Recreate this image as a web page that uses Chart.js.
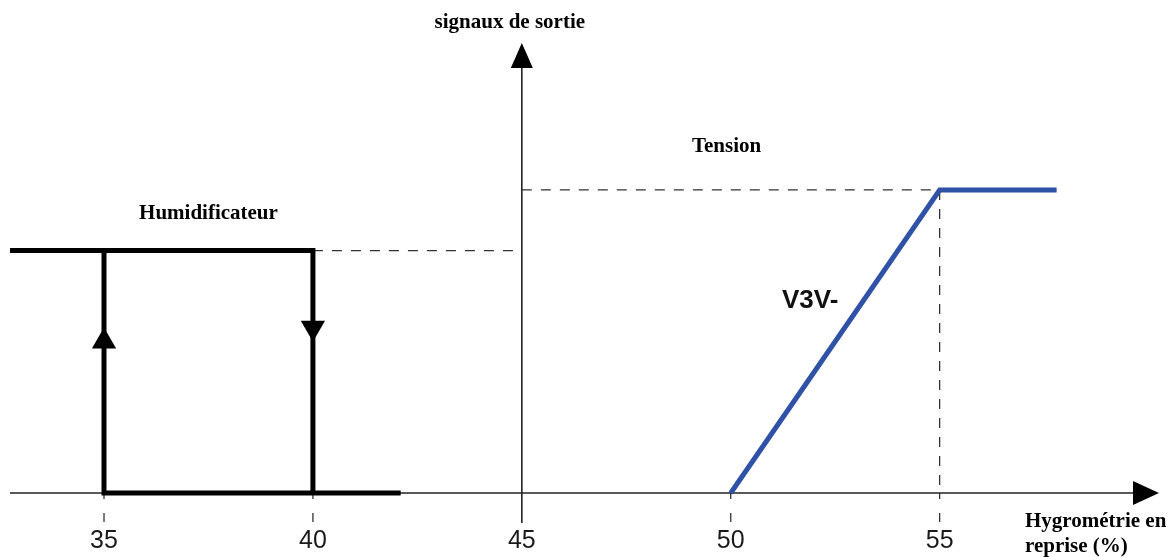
<!DOCTYPE html>
<html>
<head>
<meta charset="utf-8">
<script src="https://cdn.jsdelivr.net/npm/chart.js@4.4.1/dist/chart.umd.min.js"></script>
<style>
  html, body { margin: 0; padding: 0; background: #fff; }
  #wrap { width: 1175px; height: 557px; }
</style>
</head>
<body>
<div id="wrap"><canvas id="chart"></canvas></div>
<script>
// x: hygrometry (%), y: output signal (arbitrary units)
const xTicks = [35, 40, 45, 50, 55];
const xMin = 32.75, xMax = 60.25;
const yMax = 14.85;
const yAxisAt = 45;

// humidifier hysteresis loop (null = pen up)
const humX = [32.75, 40, 40, null, 35, 35, 42.1];
const humY = [8, 8, 0, null, 8, 0, 0];

// V3V- voltage ramp
const tenX = [50, 55, 57.8];
const tenY = [0, 10, 10];

// direction arrows on the loop legs
const arrowX = [35, 40];
const arrowY = [5.0, 5.45];
const arrowRot = [0, 180];

// dashed guide segments [x1, y1, x2, y2]
const guides = [
  [40, 8, 45, 8],
  [45, 10, 55, 10],
  [55, 10, 55, 0],
];

// in-plot labels
const labelText = ["Humidificateur", "Tension", "V3V-"];
const labelX = [37.5, 49.9, 51.9];
const labelY = [9.05, 11.25, 6.1];

const serif = "bold 21px 'Liberation Serif', 'Times New Roman', serif";

const decor = {
  id: "decor",
  beforeDatasetsDraw(chart) {
    const { ctx, chartArea, scales: { x, y } } = chart;
    const x0 = x.getPixelForValue(yAxisAt);
    const y0 = y.getPixelForValue(0);
    ctx.save();

    // dashed guides
    ctx.strokeStyle = "#333";
    ctx.lineWidth = 1.3;
    ctx.setLineDash([10, 9]);
    guides.forEach((g) => {
      ctx.beginPath();
      ctx.moveTo(x.getPixelForValue(g[0]), y.getPixelForValue(g[1]));
      ctx.lineTo(x.getPixelForValue(g[2]), y.getPixelForValue(g[3]));
      ctx.stroke();
    });

    // dashed tick marks under the axis
    ctx.setLineDash([6, 14, 9]);
    xTicks.forEach((v) => {
      if (v === yAxisAt) return;
      const px = x.getPixelForValue(v);
      ctx.beginPath();
      ctx.moveTo(px, y0);
      ctx.lineTo(px, y0 + 29);
      ctx.stroke();
    });
    ctx.setLineDash([]);

    // axes
    ctx.strokeStyle = "#222";
    ctx.lineWidth = 1.6;
    ctx.beginPath();
    ctx.moveTo(chartArea.left, y0);
    ctx.lineTo(chartArea.right - 24, y0);
    ctx.stroke();
    ctx.beginPath();
    ctx.moveTo(x0, y0 + 30);
    ctx.lineTo(x0, chartArea.top + 22);
    ctx.stroke();

    // axis arrowheads
    ctx.fillStyle = "#000";
    const r = chartArea.right, t = chartArea.top;
    ctx.beginPath();
    ctx.moveTo(r, y0);
    ctx.lineTo(r - 26, y0 - 12);
    ctx.lineTo(r - 26, y0 + 12);
    ctx.closePath();
    ctx.fill();
    ctx.beginPath();
    ctx.moveTo(x0, t);
    ctx.lineTo(x0 - 11, t + 25);
    ctx.lineTo(x0 + 11, t + 25);
    ctx.closePath();
    ctx.fill();
    ctx.restore();
  },
  afterDatasetsDraw(chart) {
    const { ctx, chartArea, scales: { x, y } } = chart;
    const x0 = x.getPixelForValue(yAxisAt);
    ctx.save();
    ctx.fillStyle = "#000";
    ctx.textBaseline = "alphabetic";

    ctx.font = serif;
    ctx.textAlign = "center";
    ctx.fillText("signaux de sortie", x0 - 12, chartArea.top - 15);
    ctx.fillText(labelText[0], x.getPixelForValue(labelX[0]), y.getPixelForValue(labelY[0]));
    ctx.fillText(labelText[1], x.getPixelForValue(labelX[1]), y.getPixelForValue(labelY[1]));

    ctx.font = "bold 26px 'Liberation Sans', Arial, sans-serif";
    ctx.fillStyle = "#111";
    ctx.fillText(labelText[2], x.getPixelForValue(labelX[2]), y.getPixelForValue(labelY[2]));

    ctx.font = serif;
    ctx.fillStyle = "#000";
    ctx.textAlign = "left";
    ctx.fillText("Hygrométrie en", chartArea.right - 134, chartArea.bottom + 34);
    ctx.fillText("reprise (%)", chartArea.right - 134, chartArea.bottom + 59);
    ctx.restore();
  },
};

const lineDefaults = {
  showLine: true,
  pointRadius: 0,
  pointHoverRadius: 0,
  tension: 0,
  spanGaps: false,
  borderJoinStyle: "miter",
  borderCapStyle: "butt",
  clip: false,
};

new Chart(document.getElementById("chart"), {
  type: "scatter",
  data: {
    datasets: [
      {
        ...lineDefaults,
        label: "Humidificateur",
        data: humX.map((v, i) => ({ x: v, y: humY[i] })),
        borderColor: "#000",
        borderWidth: 5,
      },
      {
        ...lineDefaults,
        label: "V3V-",
        data: tenX.map((v, i) => ({ x: v, y: tenY[i] })),
        borderColor: "#2f52a6",
        borderWidth: 5,
      },
      {
        label: "arrows",
        data: arrowX.map((v, i) => ({ x: v, y: arrowY[i] })),
        showLine: false,
        pointStyle: "triangle",
        pointRadius: 14,
        pointHoverRadius: 14,
        pointRotation: arrowRot,
        pointBackgroundColor: "#000",
        pointBorderWidth: 0,
        clip: false,
      },
    ],
  },
  options: {
    responsive: true,
    maintainAspectRatio: false,
    animation: false,
    events: [],
    layout: { autoPadding: false, padding: { left: 10, right: 16, top: 43, bottom: 0 } },
    plugins: { legend: { display: false }, tooltip: { enabled: false } },
    scales: {
      x: {
        type: "linear",
        min: xMin,
        max: xMax,
        afterBuildTicks: (s) => {
          s.ticks = xTicks.map((v) => ({ value: v }));
        },
        afterFit: (s) => {
          s.height = 64;
          s.paddingLeft = 0;
          s.paddingRight = 0;
        },
        grid: { display: false, drawTicks: false },
        border: { display: false },
        ticks: {
          padding: 33,
          autoSkip: false,
          maxRotation: 0,
          color: "#1a1a1a",
          font: { family: "'Liberation Sans', Arial, sans-serif", size: 25 },
        },
      },
      y: { display: false, min: 0, max: yMax },
    },
  },
  plugins: [decor],
});
</script>
</body>
</html>
